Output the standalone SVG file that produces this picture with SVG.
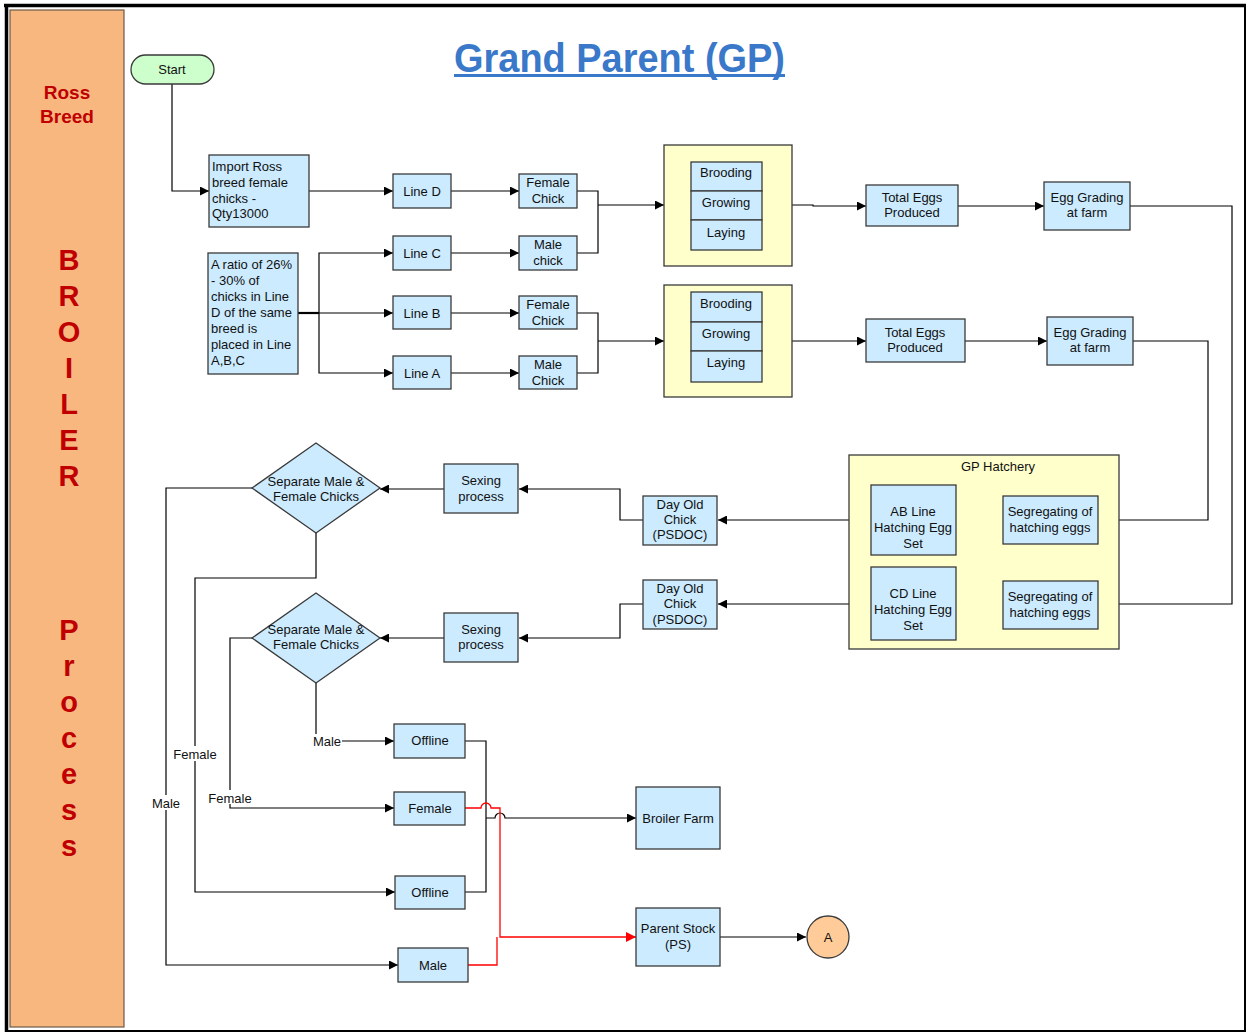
<svg xmlns="http://www.w3.org/2000/svg" width="1247" height="1032" viewBox="0 0 1247 1032">
<defs>
<style>
.t{font-family:"Liberation Sans",Arial,sans-serif;font-size:13px;fill:#111;text-anchor:middle}
.tl{font-family:"Liberation Sans",Arial,sans-serif;font-size:13px;fill:#111;text-anchor:start}
.box{fill:#CCEBFF;stroke:#3a3a3a;stroke-width:1.3}
.yel{fill:#FFFFCC;stroke:#3a3a3a;stroke-width:1.3}
.c{fill:none;stroke:#000;stroke-width:1.2}
.a{marker-end:url(#ah)}
.r{fill:none;stroke:#FF0000;stroke-width:1.3}
.red{font-family:"Liberation Sans",Arial,sans-serif;font-weight:bold;fill:#C00000;text-anchor:middle}
.lb{fill:#fff;stroke:none}
</style>
<marker id="ah" viewBox="0 0 10 10" refX="10" refY="5" markerWidth="9" markerHeight="9" markerUnits="userSpaceOnUse" orient="auto">
<path d="M0,0 L10,5 L0,10 z" fill="#000"/>
</marker>
<marker id="ahr" viewBox="0 0 10 10" refX="10" refY="5" markerWidth="10" markerHeight="10" markerUnits="userSpaceOnUse" orient="auto">
<path d="M0,0 L10,5 L0,10 z" fill="#FF0000"/>
</marker>
</defs>
<rect x="0" y="0" width="1247" height="1032" fill="#fff"/>
<rect x="6" y="6" width="1239" height="1025" fill="none" stroke="#000" stroke-width="2"/>
<path d="M4,5.5 H1246 M6.5,4 V1032" stroke="#000" stroke-width="3.5" fill="none"/>

<g id="side-panel">
<rect x="10" y="10" width="114" height="1017" fill="#F7B77F" stroke="#6b5a4a" stroke-width="1.2"/>
<text class="red" x="67" y="99" font-size="19">Ross</text>
<text class="red" x="67" y="123" font-size="19">Breed</text>
<text class="red" font-size="29" x="69" y="270">B</text>
<text class="red" font-size="29" x="69" y="306">R</text>
<text class="red" font-size="29" x="69" y="342">O</text>
<text class="red" font-size="29" x="69" y="378">I</text>
<text class="red" font-size="29" x="69" y="414">L</text>
<text class="red" font-size="29" x="69" y="450">E</text>
<text class="red" font-size="29" x="69" y="486">R</text>
<text class="red" font-size="29" x="69" y="640">P</text>
<text class="red" font-size="29" x="69" y="676">r</text>
<text class="red" font-size="29" x="69" y="712">o</text>
<text class="red" font-size="29" x="69" y="748">c</text>
<text class="red" font-size="29" x="69" y="784">e</text>
<text class="red" font-size="29" x="69" y="820">s</text>
<text class="red" font-size="29" x="69" y="856">s</text>
</g>

<g id="title">
<text x="454" y="72" font-family="'Liberation Sans',Arial,sans-serif" font-weight="bold" font-size="40" fill="#3A78C9" textLength="331" lengthAdjust="spacingAndGlyphs">Grand Parent (GP)</text>
<rect x="454" y="74" width="331" height="3" fill="#3A78C9"/>
</g>

<g id="connectors">
<path class="c a" d="M172,84 V191 H209"/>
<path class="c a" d="M309,191 H393"/>
<path class="c a" d="M451,191 H519"/>
<path d="M298,313 H319" stroke="#000" stroke-width="2.2" fill="none"/>
<path class="c a" d="M319,313 V253 H393"/>
<path class="c a" d="M319,313 H393"/>
<path class="c a" d="M319,313 V373 H393"/>
<path class="c a" d="M451,253 H519"/>
<path class="c a" d="M451,313 H519"/>
<path class="c a" d="M451,373 H519"/>
<path class="c" d="M577,191 H598 V253 H577"/>
<path class="c a" d="M598,205 H664"/>
<path class="c" d="M577,313 H598 V373 H577"/>
<path class="c a" d="M598,341 H664"/>
<path class="c a" d="M691,307 H669 V337 H691"/>
<path class="c a" d="M792,205 H813 V206 H866"/>
<path class="c a" d="M958,206 H1044"/>
<path class="c a" d="M792,341 H866"/>
<path class="c a" d="M965,341 H1047"/>
<path class="c a" d="M1130,206 H1232 V604 H1098"/>
<path class="c a" d="M1133,341 H1208 V520 H1098"/>
<path class="c a" d="M1003,520 H956"/>
<path class="c a" d="M1003,604 H956"/>
<path class="c a" d="M871,520 H718"/>
<path class="c a" d="M871,604 H718"/>
<path class="c a" d="M643,520 H620 V489 H519"/>
<path class="c a" d="M643,604 H620 V638 H519"/>
<path class="c a" d="M444,489 H380"/>
<path class="c a" d="M444,638 H380"/>
<path class="c a" d="M252,488 H166 V965 H398"/>
<path class="c a" d="M316,533 V578 H195 V892 H395"/>
<path class="c a" d="M252,638 H230 V808 H394"/>
<path class="c a" d="M316,683 V741 H394"/>
<path class="c" d="M465,741 H486 V892 H465"/>
<path class="c a" d="M486,818 H495 a5,5 0 0 1 10,0 H636"/>
<path class="r" d="M465,808 H481 a5,5 0 0 1 10,0 H500 V937 H636" marker-end="url(#ahr)"/>
<path class="r" d="M468,965 H497 V937"/>
<path class="c a" d="M720,937 H806"/>
<rect class="lb" x="151" y="795" width="30" height="15"/>
<text class="t" x="166" y="808">Male</text>
<rect class="lb" x="174" y="746" width="41" height="15"/>
<text class="t" x="195" y="759">Female</text>
<rect class="lb" x="209" y="790" width="42" height="14"/>
<text class="t" x="230" y="803">Female</text>
<rect class="lb" x="313" y="734" width="29" height="14"/>
<text class="t" x="327" y="746">Male</text>
</g>

<g id="start">
<rect x="131" y="55" width="83" height="29" rx="14.5" fill="#CCFFCC" stroke="#3a3a3a" stroke-width="1.3"/>
<text class="t" x="172" y="74">Start</text>
</g>

<g id="import">
<rect class="box" x="209" y="155" width="100" height="72"/>
<text class="tl" x="212" y="171">Import Ross</text>
<text class="tl" x="212" y="187">breed female</text>
<text class="tl" x="212" y="203">chicks -</text>
<text class="tl" x="212" y="218">Qty13000</text>
</g>

<g id="ratio">
<rect class="box" x="208" y="253" width="90" height="121"/>
<text class="tl" x="211" y="269">A ratio of 26%</text>
<text class="tl" x="211" y="285">- 30% of</text>
<text class="tl" x="211" y="301">chicks in Line</text>
<text class="tl" x="211" y="317">D of the same</text>
<text class="tl" x="211" y="333">breed is</text>
<text class="tl" x="211" y="349">placed in Line</text>
<text class="tl" x="211" y="365">A,B,C</text>
</g>

<g id="line-d"><rect class="box" x="393" y="174" width="58" height="34"/><text class="t" x="422" y="196">Line D</text></g>
<g id="line-c"><rect class="box" x="393" y="236" width="58" height="34"/><text class="t" x="422" y="258">Line C</text></g>
<g id="line-b"><rect class="box" x="393" y="296" width="58" height="33"/><text class="t" x="422" y="318">Line B</text></g>
<g id="line-a"><rect class="box" x="393" y="356" width="58" height="33"/><text class="t" x="422" y="378">Line A</text></g>

<g id="female-chick-1"><rect class="box" x="519" y="174" width="58" height="34"/><text class="t" x="548" y="187">Female</text><text class="t" x="548" y="203">Chick</text></g>
<g id="male-chick-1"><rect class="box" x="519" y="236" width="58" height="34"/><text class="t" x="548" y="249">Male</text><text class="t" x="548" y="265">chick</text></g>
<g id="female-chick-2"><rect class="box" x="519" y="296" width="58" height="33"/><text class="t" x="548" y="309">Female</text><text class="t" x="548" y="325">Chick</text></g>
<g id="male-chick-2"><rect class="box" x="519" y="356" width="58" height="33"/><text class="t" x="548" y="369">Male</text><text class="t" x="548" y="385">Chick</text></g>

<g id="rearing-1">
<rect class="yel" x="664" y="145" width="128" height="121"/>
<rect class="box" x="691" y="162" width="71" height="29"/>
<rect class="box" x="691" y="191" width="71" height="29"/>
<rect class="box" x="691" y="220" width="71" height="30"/>
<text class="t" x="726" y="177">Brooding</text>
<text class="t" x="726" y="207">Growing</text>
<text class="t" x="726" y="237">Laying</text>
</g>

<g id="rearing-2">
<rect class="yel" x="664" y="285" width="128" height="112"/>
<rect class="box" x="691" y="292" width="71" height="30"/>
<rect class="box" x="691" y="322" width="71" height="29"/>
<rect class="box" x="691" y="351" width="71" height="31"/>
<text class="t" x="726" y="308">Brooding</text>
<text class="t" x="726" y="338">Growing</text>
<text class="t" x="726" y="367">Laying</text>
</g>

<g id="total-eggs-1"><rect class="box" x="866" y="185" width="92" height="41"/><text class="t" x="912" y="202">Total Eggs</text><text class="t" x="912" y="217">Produced</text></g>
<g id="egg-grading-1"><rect class="box" x="1044" y="182" width="86" height="48"/><text class="t" x="1087" y="202">Egg Grading</text><text class="t" x="1087" y="217">at farm</text></g>
<g id="total-eggs-2"><rect class="box" x="866" y="319" width="99" height="43"/><text class="t" x="915" y="337">Total Eggs</text><text class="t" x="915" y="352">Produced</text></g>
<g id="egg-grading-2"><rect class="box" x="1047" y="317" width="86" height="48"/><text class="t" x="1090" y="337">Egg Grading</text><text class="t" x="1090" y="352">at farm</text></g>

<g id="gp-hatchery">
<rect class="yel" x="849" y="455" width="270" height="194"/>
<text class="t" x="998" y="471" font-size="12">GP Hatchery</text>
</g>
<g id="ab-line"><rect class="box" x="871" y="485" width="85" height="70"/><text class="t" x="913" y="516">AB Line</text><text class="t" x="913" y="532">Hatching Egg</text><text class="t" x="913" y="548">Set</text></g>
<g id="segregating-1"><rect class="box" x="1003" y="496" width="95" height="48"/><text class="t" x="1050" y="516">Segregating of</text><text class="t" x="1050" y="532">hatching eggs</text></g>
<g id="cd-line"><rect class="box" x="871" y="567" width="85" height="73"/><text class="t" x="913" y="598">CD Line</text><text class="t" x="913" y="614">Hatching Egg</text><text class="t" x="913" y="630">Set</text></g>
<g id="segregating-2"><rect class="box" x="1003" y="581" width="95" height="48"/><text class="t" x="1050" y="601">Segregating of</text><text class="t" x="1050" y="617">hatching eggs</text></g>

<g id="doc-1"><rect class="box" x="643" y="496" width="74" height="49"/><text class="t" x="680" y="509">Day Old</text><text class="t" x="680" y="524">Chick</text><text class="t" x="680" y="539">(PSDOC)</text></g>
<g id="doc-2"><rect class="box" x="643" y="580" width="74" height="49"/><text class="t" x="680" y="593">Day Old</text><text class="t" x="680" y="608">Chick</text><text class="t" x="680" y="624">(PSDOC)</text></g>

<g id="sexing-1"><rect class="box" x="444" y="464" width="74" height="49"/><text class="t" x="481" y="485">Sexing</text><text class="t" x="481" y="501">process</text></g>
<g id="sexing-2"><rect class="box" x="444" y="613" width="74" height="49"/><text class="t" x="481" y="634">Sexing</text><text class="t" x="481" y="649">process</text></g>

<g id="separate-1"><polygon class="box" points="316,443 380,488 316,533 252,488"/><text class="t" x="316" y="486">Separate Male &amp;</text><text class="t" x="316" y="501">Female Chicks</text></g>
<g id="separate-2"><polygon class="box" points="316,593 380,638 316,683 252,638"/><text class="t" x="316" y="634">Separate Male &amp;</text><text class="t" x="316" y="649">Female Chicks</text></g>

<g id="offline-1"><rect class="box" x="394" y="724" width="71" height="34"/><text class="t" x="430" y="745">Offline</text></g>
<g id="female"><rect class="box" x="394" y="792" width="71" height="33"/><text class="t" x="430" y="813">Female</text></g>
<g id="offline-2"><rect class="box" x="395" y="876" width="70" height="33"/><text class="t" x="430" y="897">Offline</text></g>
<g id="male"><rect class="box" x="398" y="948" width="70" height="34"/><text class="t" x="433" y="970">Male</text></g>

<g id="broiler-farm"><rect class="box" x="636" y="787" width="84" height="62"/><text class="t" x="678" y="823">Broiler Farm</text></g>
<g id="parent-stock"><rect class="box" x="636" y="908" width="84" height="58"/><text class="t" x="678" y="933">Parent Stock</text><text class="t" x="678" y="949">(PS)</text></g>
<g id="connector-a"><circle cx="828" cy="937" r="21" fill="#FFCC99" stroke="#3a3a3a" stroke-width="1.3"/><text class="t" x="828" y="942">A</text></g>
</svg>
